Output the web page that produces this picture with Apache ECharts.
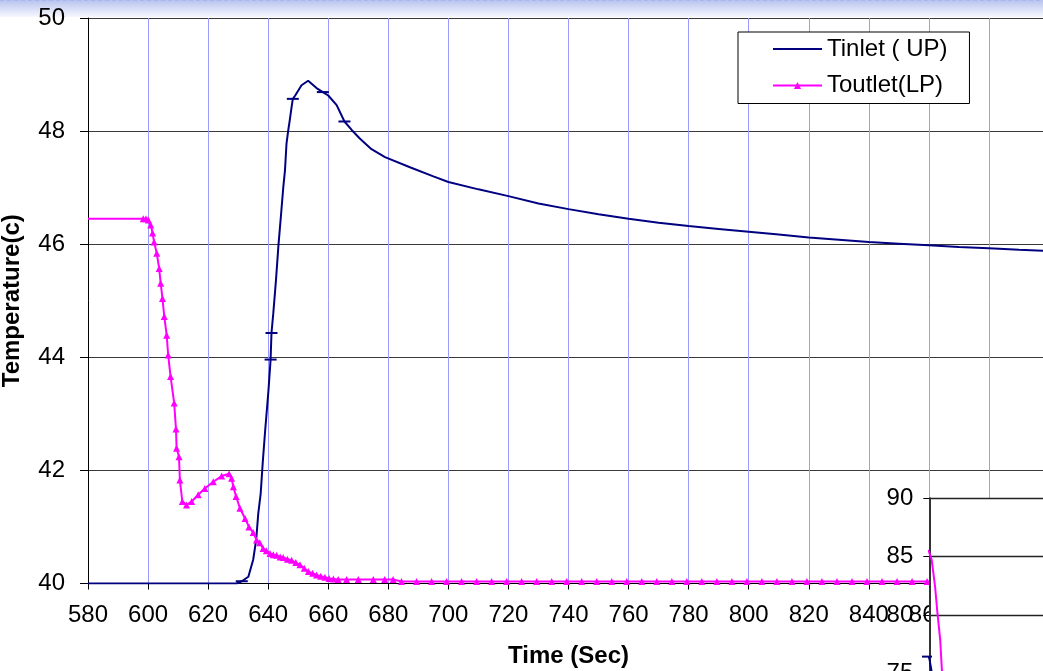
<!DOCTYPE html>
<html>
<head>
<meta charset="utf-8">
<script src="https://cdn.jsdelivr.net/npm/echarts@6/dist/echarts.min.js"></script>
<style>
html,body{margin:0;padding:0;background:#fff;}
#chart{width:1043px;height:671px;}
</style>
</head>
<body>
<div id="chart"></div>
<script>
// ---- data ----
const xTicks = [580, 600, 620, 640, 660, 680, 700, 720, 740, 760, 780, 800, 820, 840, 860, 880, 900];
const yTicks = [40, 42, 44, 46, 48, 50];
const seriesNames = ['Tinlet ( UP)', 'Toutlet(LP)'];

const tinletTime = [580, 629.5, 631.2, 633.4, 635, 636, 636.7, 637.5, 638.2, 639, 640.1, 640.8, 641.1, 641.7, 642.6, 643.4, 644.4, 645, 645.6, 646.1, 646.7, 647.2, 647.8, 648.2, 649, 651.1, 653.3, 656.1, 658.2, 660, 662.8, 665.4, 667.8, 670.5, 674.4, 678.9, 687.2, 695, 700, 710, 720, 730, 740, 750, 760, 770, 780, 790, 800, 810, 820, 830, 840, 850, 860, 870, 880, 890, 900];
const tinletTemp = [40.0, 40.0, 40.04, 40.12, 40.42, 40.77, 41.24, 41.59, 42.15, 42.71, 43.42, 43.96, 44.43, 44.78, 45.37, 45.97, 46.6, 46.99, 47.31, 47.78, 48.02, 48.2, 48.43, 48.57, 48.63, 48.81, 48.89, 48.76, 48.69, 48.63, 48.46, 48.17, 48.02, 47.87, 47.68, 47.54, 47.36, 47.2, 47.1, 46.97, 46.85, 46.72, 46.62, 46.53, 46.45, 46.38, 46.32, 46.27, 46.22, 46.17, 46.12, 46.08, 46.04, 46.01, 45.98, 45.95, 45.93, 45.9, 45.88];
const tinletMarkTimes = [631.2, 640.8, 641.1, 648.2, 658.2, 665.4];

const toutletTime = [580, 598.4, 599.3, 600.1, 600.9, 601.5, 602, 602.9, 603.7, 604.2, 604.8, 605.4, 606.2, 606.7, 607.5, 608.7, 609.3, 609.5, 610.3, 610.6, 611.4, 612.8, 614.5, 616.7, 618.9, 621.7, 624.5, 627, 627.8, 628.4, 629.3, 630.6, 632.3, 633.6, 635, 636.1, 637.2, 638.3, 639.4, 640.6, 641.7, 642.8, 644, 645, 646.4, 647.8, 649.2, 650.6, 652, 653.4, 654.8, 656.1, 657.5, 658.9, 660.3, 661.7, 663.3, 666.1, 670, 675, 678.8, 681.6,
  684.4, 689.4, 694.4, 699.4, 704.4, 709.4, 714.4, 719.4, 724.4, 729.4, 734.4, 739.4, 744.4, 749.4, 754.4, 759.4, 764.4, 769.4, 774.4, 779.4, 784.4, 789.4, 794.4, 799.4, 804.4, 809.4, 814.4, 819.4, 824.4, 829.4, 834.4, 839.4, 844.4, 849.4, 854.4, 859.4, 864.4, 869.4, 874.4, 879.4, 884.4, 889.4, 894.4, 899.4];
const toutletTemp = [46.45, 46.45, 46.45, 46.43, 46.34, 46.2, 46.04, 45.84, 45.57, 45.31, 45.04, 44.72, 44.39, 44.04, 43.66, 43.19, 42.73, 42.39, 42.24, 41.83, 41.45, 41.39, 41.45, 41.57, 41.68, 41.8, 41.9, 41.94, 41.86, 41.71, 41.54, 41.33, 41.15, 41.0, 40.9, 40.77, 40.72, 40.62, 40.58, 40.53, 40.51, 40.5, 40.47, 40.46, 40.43, 40.41, 40.37, 40.33, 40.27, 40.21, 40.18, 40.15, 40.13, 40.11, 40.09, 40.08, 40.07, 40.07, 40.07, 40.07, 40.07, 40.07,
  40.035, 40.035, 40.035, 40.035, 40.035, 40.035, 40.035, 40.035, 40.035, 40.035, 40.035, 40.035, 40.035, 40.035, 40.035, 40.035, 40.035, 40.035, 40.035, 40.035, 40.035, 40.035, 40.035, 40.035, 40.035, 40.035, 40.035, 40.035, 40.035, 40.035, 40.035, 40.035, 40.035, 40.035, 40.035, 40.035, 40.035, 40.035, 40.035, 40.035, 40.035, 40.035, 40.035, 40.035];
const toutletNoMarkTimes = [580];

// partially hidden inset chart (bottom right)
const insetYTicks = [75, 80, 85, 90];
const insetOutTime = [-1.86, -0.2, 0.84, 2.0, 2.82, 3.77, 4.37, 5.2];
const insetOutTemp = [85.63, 85.48, 84.71, 82.43, 80.15, 77.86, 75.2, 74.0];
const insetInTime = [-0.8, 0, 0.77, 1.3];
const insetInTemp = [76.43, 76.3, 75.2, 74.4];
const insetInMarkTimes = [-0.8];

// ---- build ----
const FONT = '"Liberation Sans", Arial, sans-serif';
const NAVY = '#000080';
const MAG = '#ff00ff';

const tinletData = tinletTime.map((t, i) => {
  const marked = tinletMarkTimes.includes(t);
  return marked ? {value: [t, tinletTemp[i]], symbol: 'rect', symbolSize: [12, 2]} : {value: [t, tinletTemp[i]], symbol: 'none'};
});
const toutletData = toutletTime.map((t, i) => {
  return toutletNoMarkTimes.includes(t) ? {value: [t, toutletTemp[i]], symbol: 'none'} : {value: [t, toutletTemp[i]]};
});
const insetOutData = insetOutTime.map((t, i) => [t, insetOutTemp[i]]);
const insetInData = insetInTime.map((t, i) => insetInMarkTimes.includes(t) ? {value: [t, insetInTemp[i]], symbol: 'rect', symbolSize: [10, 2]} : {value: [t, insetInTemp[i]], symbol: 'none'});

const chart = echarts.init(document.getElementById('chart'), null, {renderer: 'canvas'});
chart.setOption({
  animation: false,
  backgroundColor: '#ffffff',
  textStyle: {fontFamily: FONT},
  graphic: [
    {type: 'rect', z: -10, silent: true, shape: {x: 0, y: 0, width: 1043, height: 17},
     style: {fill: new echarts.graphic.LinearGradient(0, 0, 0, 1, [{offset: 0, color: '#b7c3ef'}, {offset: 1, color: '#f7f8fe'}])}},
    {type: 'line', z: -9, silent: true, shape: {x1: 0, y1: 0.5, x2: 1043, y2: 0.5}, style: {stroke: '#a9b4f0', lineWidth: 1, lineDash: [4, 3]}},
    {type: 'rect', z: 10, silent: true, shape: {x: 929.3, y: 498.3, width: 120, height: 180}, style: {fill: '#ffffff'}}
  ],
  grid: [
    {left: 88, top: 18, right: -6, bottom: 87.5, outerBoundsMode: 'none', containLabel: false},
    {left: 929.3, top: 498.3, right: -2, bottom: -2.3, outerBoundsMode: 'none', containLabel: false}
  ],
  legend: {
    data: [
      {name: seriesNames[0], icon: 'path://M0,0 L49,0 L49,2 L0,2 Z'},
      {name: seriesNames[1]}
    ],
    orient: 'vertical',
    left: 738, top: 32,
    itemWidth: 49, itemHeight: 9, itemGap: 10.5, symbolKeepAspect: true,
    padding: [4, 22, 5, 34],
    backgroundColor: '#ffffff',
    borderColor: '#000000', borderWidth: 1,
    textStyle: {fontSize: 24, lineHeight: 26, color: '#000', fontFamily: FONT}
  },
  xAxis: [
    {
      type: 'value', gridIndex: 0, min: xTicks[0], max: xTicks[xTicks.length - 1], interval: 20,
      name: 'Time (Sec)', nameLocation: 'middle', nameGap: 61,
      nameTextStyle: {fontSize: 24, fontWeight: 'bold', color: '#000', fontFamily: FONT},
      axisLine: {show: true, onZero: false, lineStyle: {color: '#000', width: 1}},
      axisTick: {show: true, inside: false, length: 6, lineStyle: {color: '#000'}},
      axisLabel: {fontSize: 24, color: '#000', margin: 20, fontFamily: FONT},
      splitLine: {show: true, lineStyle: {color: '#9a9aff', width: 1}}
    },
    {
      type: 'value', gridIndex: 1, min: 0, max: 40, show: false, z: 20,
      splitLine: {show: false}
    }
  ],
  yAxis: [
    {
      type: 'value', gridIndex: 0, min: yTicks[0], max: yTicks[yTicks.length - 1], interval: 2,
      name: 'Temperature(c)', nameLocation: 'middle', nameGap: 64,
      nameTextStyle: {fontSize: 24, fontWeight: 'bold', color: '#000', fontFamily: FONT},
      axisLine: {show: true, lineStyle: {color: '#000', width: 1}},
      axisTick: {show: true, length: 8, lineStyle: {color: '#000'}},
      axisLabel: {fontSize: 24, color: '#000', margin: 23, fontFamily: FONT},
      splitLine: {show: true, lineStyle: {color: '#3a3a3a', width: 1.2}}
    },
    {
      type: 'value', gridIndex: 1, min: insetYTicks[0], max: insetYTicks[insetYTicks.length - 1], interval: 5, z: 20,
      axisLine: {show: true, lineStyle: {color: '#333', width: 2}},
      axisTick: {show: true, length: 6, lineStyle: {color: '#000'}},
      axisLabel: {fontSize: 24, color: '#000', margin: 16, fontFamily: FONT},
      splitLine: {show: true, lineStyle: {color: '#222', width: 1.3}}
    }
  ],
  series: [
    {
      name: seriesNames[0], type: 'line', xAxisIndex: 0, yAxisIndex: 0,
      data: tinletData, symbol: 'none', showSymbol: true,
      lineStyle: {color: NAVY, width: 2}, itemStyle: {color: NAVY}, z: 3
    },
    {
      name: seriesNames[1], type: 'line', xAxisIndex: 0, yAxisIndex: 0,
      data: toutletData, symbol: 'triangle', symbolSize: 7, showSymbol: true,
      lineStyle: {color: MAG, width: 2}, itemStyle: {color: MAG}, z: 4
    },
    {
      type: 'line', xAxisIndex: 1, yAxisIndex: 1, data: insetInData, symbol: 'none', showSymbol: true,
      clip: false, lineStyle: {color: NAVY, width: 2}, itemStyle: {color: NAVY}, z: 21
    },
    {
      type: 'line', xAxisIndex: 1, yAxisIndex: 1, data: insetOutData, symbol: 'none',
      clip: false, lineStyle: {color: MAG, width: 2}, itemStyle: {color: MAG}, z: 22
    }
  ]
});
</script>
</body>
</html>
